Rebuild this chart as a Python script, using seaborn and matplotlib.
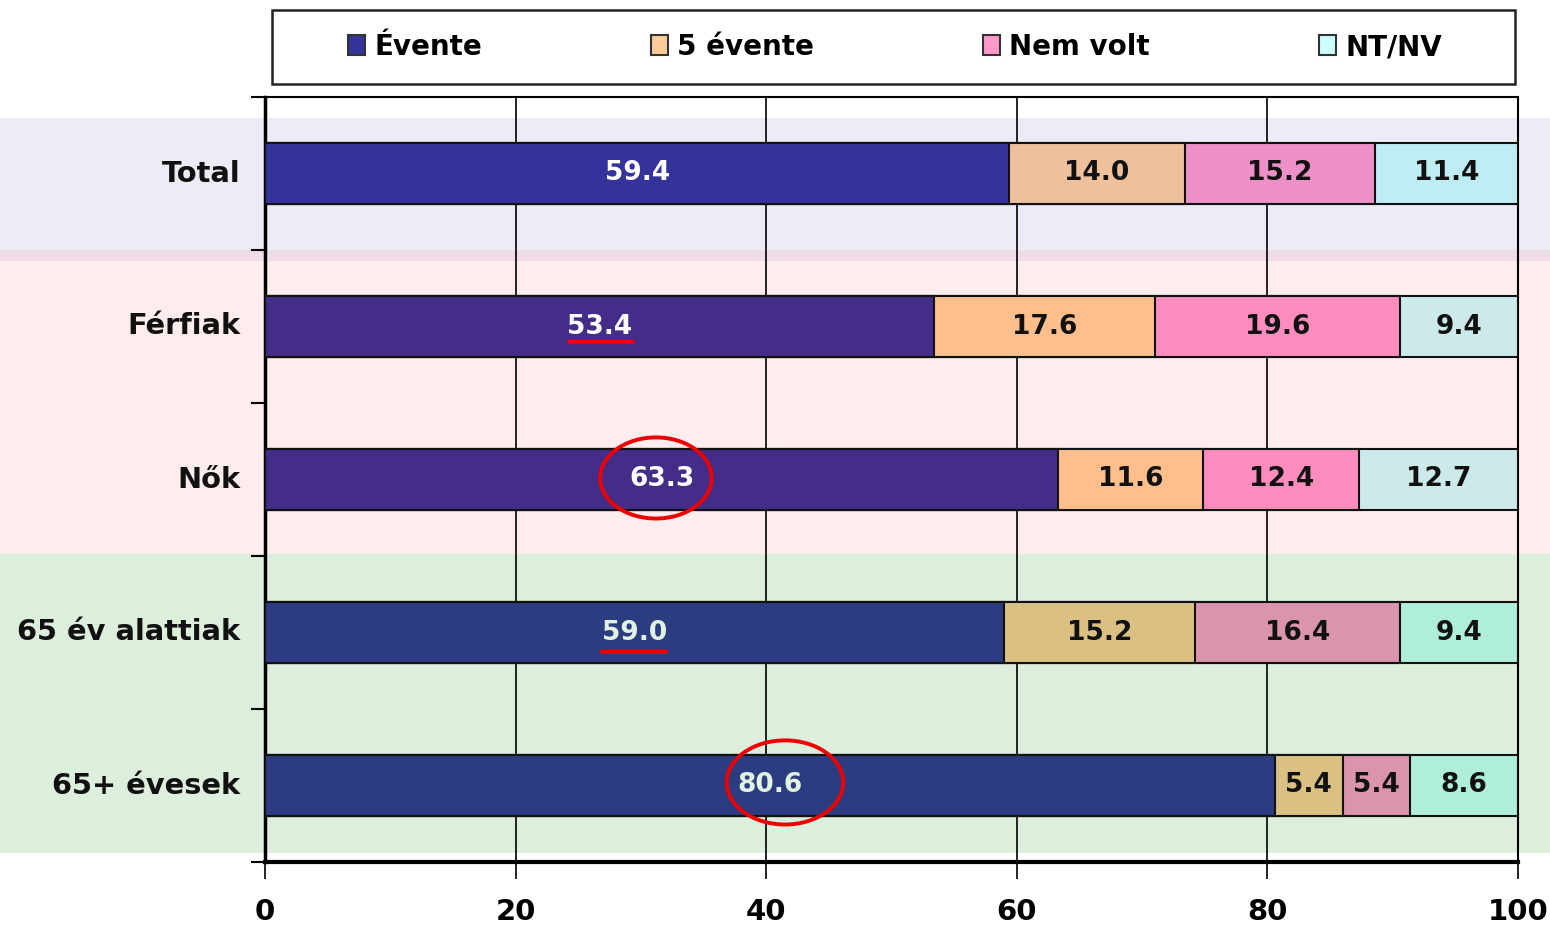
import matplotlib
matplotlib.use("Agg")
import matplotlib.pyplot as plt
import matplotlib.transforms as mtransforms
from matplotlib.patches import Rectangle, Ellipse, Patch
from matplotlib.lines import Line2D
import numpy as np
import seaborn as sns

# ---------------- data ----------------
categories = ["Total", "Férfiak", "Nők", "65 év alattiak", "65+ évesek"]
series = ["Évente", "5 évente", "Nem volt", "NT/NV"]
evente = [59.4, 53.4, 63.3, 59.0, 80.6]
ot_evente = [14.0, 17.6, 11.6, 15.2, 5.4]
nem_volt = [15.2, 19.6, 12.4, 16.4, 5.4]
nt_nv = [11.4, 9.4, 12.7, 9.4, 8.6]
x_ticks = [0, 20, 40, 60, 80, 100]

# ---------------- styles ----------------
row_colors = [
    ["#333399", "#EEC09C", "#EE90C8", "#BEEEF4"],
    ["#432D89", "#FFBF8C", "#FF8CBF", "#CCEAEA"],
    ["#432D89", "#FFBF8C", "#FF8CBF", "#CCEAEA"],
    ["#2B3D80", "#DBC084", "#DB94AE", "#AEEEDB"],
    ["#2B3D80", "#DBC084", "#DB94AE", "#AEEEDB"],
]
first_label_colors = ["#FFFFFF", "#FFFFFF", "#FFFFFF", "#E2F2E2", "#E2F2E2"]
legend_colors = ["#333399", "#FFCC99", "#FF99CC", "#CCFFFF"]

sns.set_style("white")
plt.rcParams["font.family"] = ["DejaVu Sans"]
plt.rcParams["font.weight"] = "bold"
plt.rcParams["text.color"] = "#111111"

fig = plt.figure(figsize=(15.5, 9.25), dpi=100)
ax = fig.add_axes([265 / 1550, 1 - 862 / 925, (1518 - 265) / 1550, (862 - 97) / 925])
ax.set_facecolor("none")

values = np.array([evente, ot_evente, nem_volt, nt_nv])  # shape (4, 5)
cum = np.cumsum(values, axis=0)

# stacked bars drawn from the widest cumulative total to the narrowest
for j in range(len(series) - 1, -1, -1):
    sns.barplot(
        x=cum[j], y=categories, hue=categories,
        palette=[row_colors[i][j] for i in range(len(categories))],
        saturation=1, orient="h", width=0.4, edgecolor="#111111", linewidth=1.5,
        legend=False, ax=ax, zorder=3,
    )

ax.set_xlim(0, 100)
ax.set_ylim(4.5, -0.5)

# background bands spanning the full figure width
blend = mtransforms.blended_transform_factory(fig.transFigure, ax.transData)
bands = [(-0.36, 0.55, "#ECECF6"), (0.55, 2.49, "#FFECEC"), (2.49, 4.44, "#DCEEDC")]
for y0, y1, c in bands:
    ax.add_patch(Rectangle((0, y0), 1, y1 - y0, transform=blend, facecolor=c,
                           edgecolor="none", clip_on=False, zorder=0.1))
ax.add_patch(Rectangle((0, 0.50), 1, 0.07, transform=blend, facecolor="#EEDCE6",
                       edgecolor="none", clip_on=False, zorder=0.2))

# grid
ax.set_axisbelow(True)
ax.xaxis.grid(True, color="#000000", linewidth=1.2, zorder=0.5)
ax.yaxis.grid(False)
ax.set_xticks(x_ticks)
ax.set_xticklabels([str(t) for t in x_ticks], fontsize=21, fontweight="bold", color="#000000")
ax.tick_params(axis="x", which="major", bottom=True, direction="out", length=12,
               width=1.2, color="black", pad=14)

ax.set_yticks(range(len(categories)))
ax.set_yticklabels(categories, fontsize=20.8, fontweight="bold", color="#111111")
ax.set_yticks(np.arange(-0.5, len(categories)), minor=True)
ax.tick_params(axis="y", which="major", left=True, length=0, pad=18)
ax.tick_params(axis="y", which="minor", left=True, direction="out", length=10,
               width=1.5, color="black")
for lbl in ax.get_yticklabels():
    lbl.set_va("center")
ax.set_xlabel("")
ax.set_ylabel("")

for side in ["left", "bottom", "top", "right"]:
    ax.spines[side].set_visible(True)
    ax.spines[side].set_color("black")
ax.spines["left"].set_linewidth(2.5)
ax.spines["bottom"].set_linewidth(3)
ax.spines["top"].set_linewidth(1.5)
ax.spines["right"].set_linewidth(1.5)

# value labels
for i in range(len(categories)):
    for j in range(len(series)):
        v = values[j, i]
        xc = cum[j, i] - v / 2
        col = first_label_colors[i] if j == 0 else "#111111"
        ax.text(xc, i, f"{v:.1f}", ha="center", va="center",
                fontsize=19, fontweight="bold", color=col, zorder=5)

# red highlight marks
red = "#EE0000"
ax.add_patch(Ellipse((31.2, 1.99), 8.9, 0.53, fill=False, edgecolor=red, linewidth=2.8, zorder=6))
ax.add_patch(Ellipse((41.5, 3.98), 9.3, 0.55, fill=False, edgecolor=red, linewidth=2.8, zorder=6))
ax.add_line(Line2D([24.3, 29.4], [1.10, 1.10], color=red, linewidth=3, zorder=6))
ax.add_line(Line2D([26.9, 32.0], [3.13, 3.13], color=red, linewidth=3, zorder=6))

# legend
fig.patches.append(Rectangle((272 / 1550, 1 - 84 / 925), 1243 / 1550, 74 / 925,
                             transform=fig.transFigure, facecolor="white",
                             edgecolor="#222222", linewidth=1.8, zorder=1))
handles = [Patch(facecolor=c, edgecolor="#333333", linewidth=1.5) for c in legend_colors]
leg = fig.legend(handles, series, loc="center", ncol=4, mode="expand",
                 bbox_to_anchor=(348 / 1550, 1 - 62 / 925, (1442 - 348) / 1550, 30 / 925),
                 frameon=False, handlelength=0.6, handleheight=0.75, handletextpad=0.35,
                 borderaxespad=0, borderpad=0, prop={"size": 20, "weight": "bold"})
for t in leg.get_texts():
    t.set_color("#000000")

fig.savefig("out.png", dpi=100)
